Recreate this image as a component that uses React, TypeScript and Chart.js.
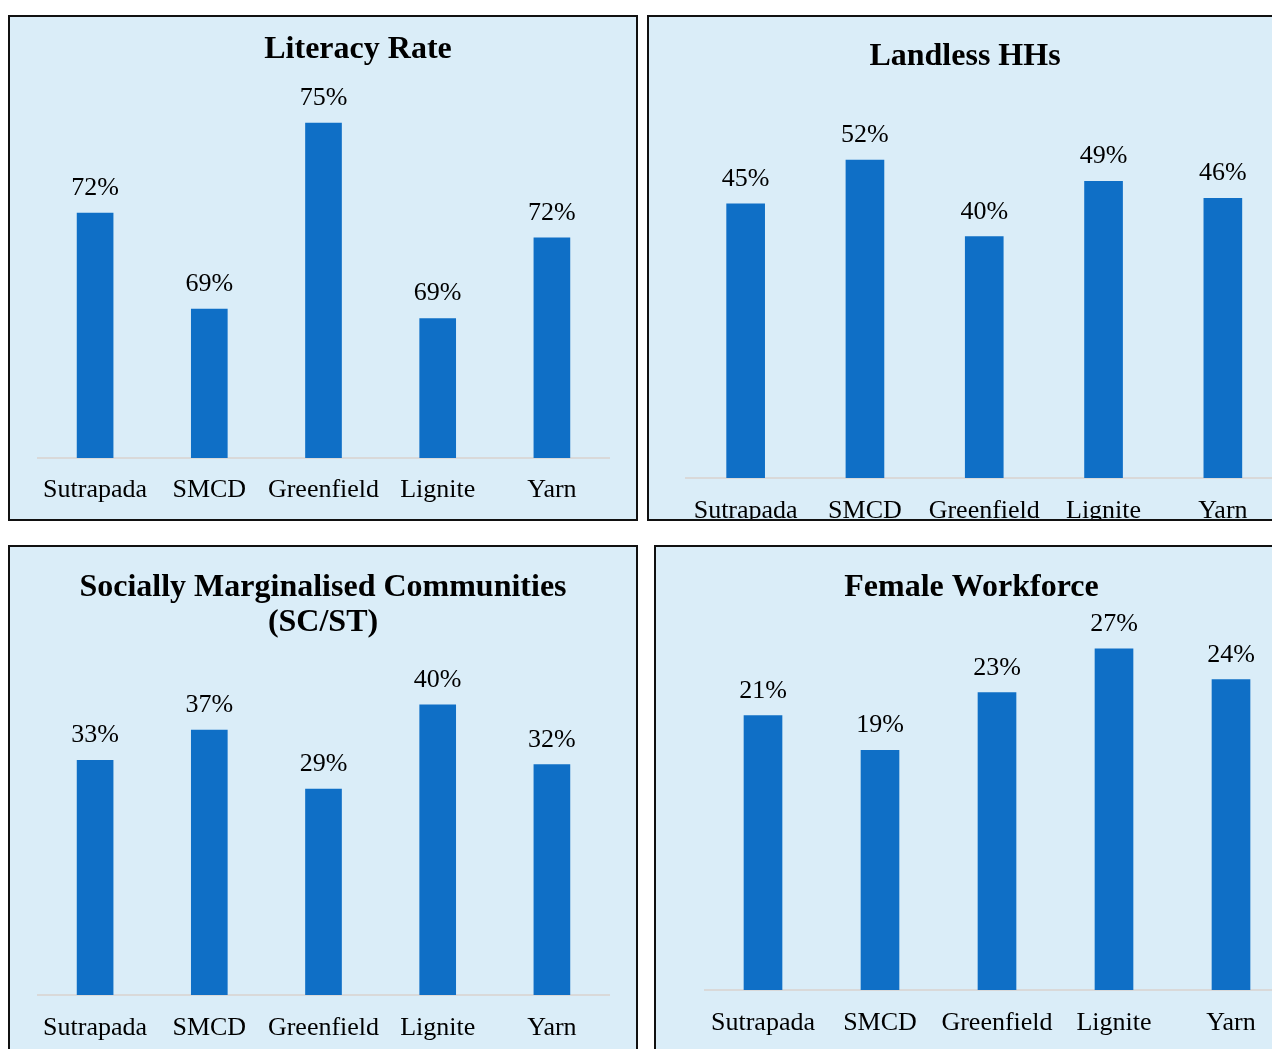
import React, { useEffect, useRef } from 'react';
import { Chart, registerables } from 'chart.js';

Chart.register(...registerables);

const FONT = '"Liberation Serif", "Times New Roman", serif';

const categories = ['Sutrapada', 'SMCD', 'Greenfield', 'Lignite', 'Yarn'];
const literacyRate = [72.4, 69.3, 75.3, 69.0, 71.6];
const landlessHHs = [45.1, 52.3, 39.7, 48.8, 46.0];
const marginalisedShare = [32.6, 36.8, 28.6, 40.3, 32.0];
const femaleWorkforce = [21.4, 18.7, 23.2, 26.6, 24.2];

const literacyTitle = ['Literacy Rate'];
const landlessTitle = ['Landless HHs'];
const marginalisedTitle = ['Socially Marginalised Communities', '(SC/ST)'];
const femaleTitle = ['Female Workforce'];

const BAR_COLOR = '#0F6FC6';
const PANEL_BG = '#DAEDF8';

type PanelCfg = {
  id: string;
  title: string[];
  values: number[];
  left: number;
  top: number;
  boxW: number;
  boxH: number;
  canvasW: number;
  canvasH: number;
  padL: number;
  padR: number;
  padTop: number;
  axisHeight: number;
  yMin: number;
  yMax: number;
  barThickness: number;
  titleX: number;
  titleBaselines: number[];
  tickPadding: number;
};

const panels: PanelCfg[] = [
  {
    id: 'literacy', title: literacyTitle, values: literacyRate,
    left: 8, top: 15, boxW: 626, boxH: 502, canvasW: 626, canvasH: 502,
    padL: 28, padR: 27, padTop: 60, axisHeight: 61,
    yMin: 64.5, yMax: 76.79, barThickness: 36,
    titleX: 348, titleBaselines: [41], tickPadding: 17,
  },
  {
    id: 'landless', title: landlessTitle, values: landlessHHs,
    left: 647, top: 15, boxW: 640, boxH: 502, canvasW: 640, canvasH: 540,
    padL: 37, padR: 6.5, padTop: 70, axisHeight: 79,
    yMin: 0, yMax: 64.31, barThickness: 38,
    titleX: 316, titleBaselines: [47.5], tickPadding: 18,
  },
  {
    id: 'marginalised', title: marginalisedTitle, values: marginalisedShare,
    left: 8, top: 545, boxW: 626, boxH: 520, canvasW: 626, canvasH: 502,
    padL: 28, padR: 27, padTop: 100, axisHeight: 54,
    yMin: 0, yMax: 48.33, barThickness: 36,
    titleX: 313, titleBaselines: [48.6, 83.6], tickPadding: 18,
  },
  {
    id: 'female', title: femaleTitle, values: femaleWorkforce,
    left: 654, top: 545, boxW: 640, boxH: 520, canvasW: 640, canvasH: 502,
    padL: 48.5, padR: 6.5, padTop: 80, axisHeight: 59,
    yMin: 0, yMax: 28.31, barThickness: 38,
    titleX: 315.5, titleBaselines: [48.6], tickPadding: 18,
  },
];

const titlePlugin = {
  id: 'panelTitle',
  afterDraw(chart: any, _args: any, opts: any) {
    const ctx = chart.ctx;
    ctx.save();
    ctx.font = `bold 32px ${FONT}`;
    ctx.fillStyle = '#000';
    ctx.textAlign = 'center';
    ctx.textBaseline = 'alphabetic';
    (opts.lines || []).forEach((line: string, i: number) => {
      ctx.fillText(line, opts.x, opts.baselines[i]);
    });
    ctx.restore();
  },
};

const valueLabelPlugin = {
  id: 'valueLabels',
  afterDatasetsDraw(chart: any) {
    const ctx = chart.ctx;
    ctx.save();
    ctx.font = `26px ${FONT}`;
    ctx.fillStyle = '#000';
    ctx.textAlign = 'center';
    ctx.textBaseline = 'alphabetic';
    chart.data.datasets.forEach((ds: any, di: number) => {
      const meta = chart.getDatasetMeta(di);
      meta.data.forEach((el: any, i: number) => {
        const v = ds.data[i] as number;
        ctx.fillText(`${Math.round(v)}%`, el.x, el.y - 18);
      });
    });
    ctx.restore();
  },
};

function Panel({ cfg }: { cfg: PanelCfg }) {
  const ref = useRef<HTMLCanvasElement>(null);
  useEffect(() => {
    if (!ref.current) return;
    const chart = new Chart(ref.current, {
      type: 'bar',
      data: {
        labels: categories,
        datasets: [
          {
            data: cfg.values,
            backgroundColor: BAR_COLOR,
            borderWidth: 0,
            barThickness: cfg.barThickness,
          },
        ],
      },
      options: {
        responsive: false,
        maintainAspectRatio: false,
        animation: false,
        layout: { padding: { left: cfg.padL, right: cfg.padR, top: cfg.padTop, bottom: 0 } },
        plugins: {
          legend: { display: false },
          tooltip: { enabled: false },
          title: { display: false },
          panelTitle: { lines: cfg.title, x: cfg.titleX, baselines: cfg.titleBaselines },
        } as any,
        scales: {
          x: {
            grid: { display: false, drawTicks: false },
            border: { display: true, color: '#D9D9D9', width: 2 },
            ticks: {
              color: '#000',
              font: { size: 26, family: FONT },
              padding: cfg.tickPadding,
              maxRotation: 0,
              minRotation: 0,
              autoSkip: false,
            },
            afterFit: (scale: any) => {
              scale.height = cfg.axisHeight;
            },
          },
          y: { display: false, min: cfg.yMin, max: cfg.yMax },
        },
      },
      plugins: [titlePlugin, valueLabelPlugin],
    });
    return () => chart.destroy();
  }, [cfg]);

  return (
    <div
      style={{
        position: 'absolute',
        left: cfg.left,
        top: cfg.top,
        width: cfg.boxW,
        height: cfg.boxH,
        border: '2px solid #111',
        background: PANEL_BG,
        overflow: 'hidden',
      }}
    >
      <canvas ref={ref} width={cfg.canvasW} height={cfg.canvasH} style={{ display: 'block' }} />
    </div>
  );
}

export default function App() {
  return (
    <div
      style={{
        position: 'fixed',
        left: 0,
        top: 0,
        width: 1272,
        height: 1049,
        overflow: 'hidden',
        background: '#fff',
      }}
    >
      {panels.map((p) => (
        <Panel key={p.id} cfg={p} />
      ))}
    </div>
  );
}
